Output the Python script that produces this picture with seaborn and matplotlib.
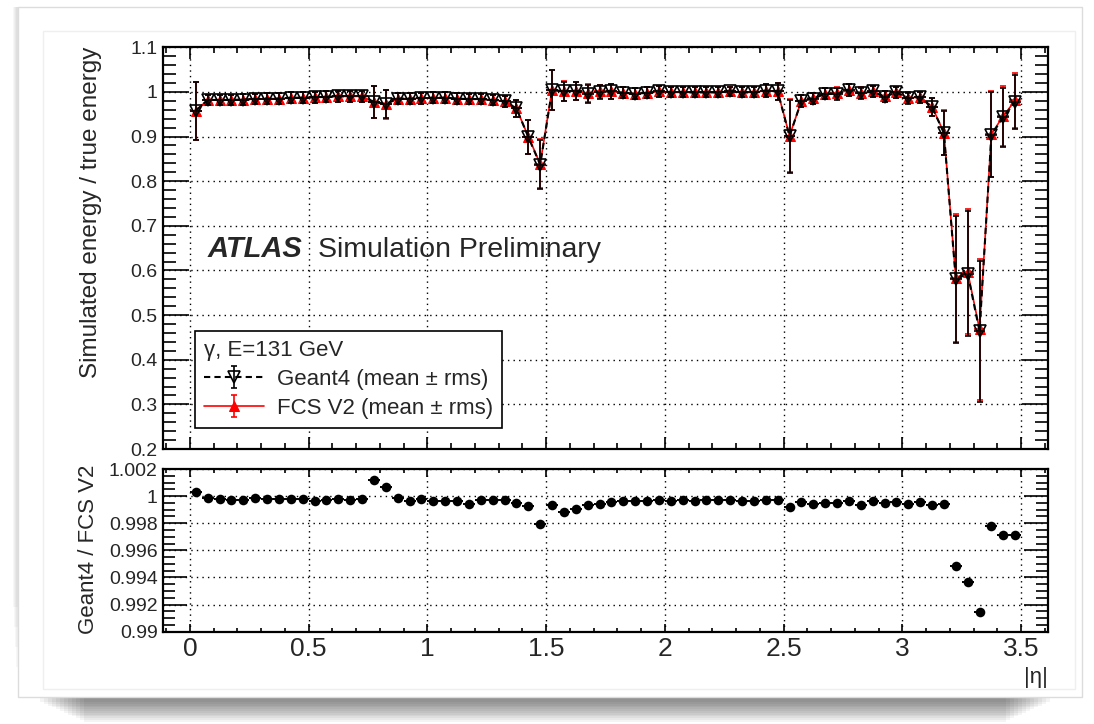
import numpy as np
import pandas as pd
import matplotlib
matplotlib.use("Agg")
import matplotlib.pyplot as plt
from matplotlib.patches import Rectangle
from matplotlib.ticker import MultipleLocator, FuncFormatter
import seaborn as sns

# |eta| bins: 70 bins of width 0.05 from 0 to 3.5
eta = np.round(0.025 + 0.05 * np.arange(70), 3)

g4_mean = [0.958, 0.982, 0.982, 0.982, 0.983, 0.984, 0.985, 0.985, 0.987, 0.987,
           0.988, 0.989, 0.990, 0.990, 0.990, 0.978, 0.973, 0.985, 0.985, 0.986,
           0.987, 0.987, 0.985, 0.984, 0.984, 0.982, 0.979, 0.963, 0.899, 0.837,
           1.004, 1.001, 1.002, 0.996, 1.000, 1.001, 0.998, 0.996, 0.998, 1.001,
           0.999, 0.999, 0.999, 0.999, 0.999, 1.001, 0.999, 0.999, 1.003, 1.001,
           0.901, 0.980, 0.985, 0.996, 0.996, 1.004, 0.997, 1.001, 0.989, 0.999,
           0.986, 0.988, 0.966, 0.908, 0.580, 0.593, 0.464, 0.904, 0.943, 0.978]
g4_rms = [0.065, 0.012, 0.012, 0.012, 0.012, 0.012, 0.012, 0.012, 0.012, 0.012,
          0.012, 0.012, 0.012, 0.012, 0.012, 0.036, 0.032, 0.012, 0.012, 0.012,
          0.012, 0.012, 0.012, 0.012, 0.012, 0.012, 0.013, 0.020, 0.038, 0.055,
          0.045, 0.022, 0.020, 0.020, 0.015, 0.016, 0.012, 0.012, 0.012, 0.012,
          0.011, 0.011, 0.011, 0.011, 0.011, 0.011, 0.011, 0.011, 0.015, 0.020,
          0.082, 0.014, 0.012, 0.012, 0.013, 0.013, 0.012, 0.013, 0.012, 0.012,
          0.012, 0.012, 0.020, 0.050, 0.143, 0.140, 0.158, 0.095, 0.066, 0.060]
fcs_mean = [0.958, 0.982, 0.982, 0.982, 0.983, 0.984, 0.985, 0.985, 0.987, 0.987,
            0.988, 0.989, 0.990, 0.990, 0.990, 0.977, 0.972, 0.985, 0.985, 0.986,
            0.987, 0.987, 0.985, 0.984, 0.984, 0.982, 0.979, 0.963, 0.900, 0.839,
            1.005, 1.002, 1.003, 0.997, 1.001, 1.001, 0.998, 0.996, 0.998, 1.001,
            0.999, 0.999, 0.999, 0.999, 0.999, 1.001, 0.999, 0.999, 1.003, 1.001,
            0.902, 0.980, 0.986, 0.996, 0.997, 1.004, 0.998, 1.001, 0.990, 0.999,
            0.987, 0.988, 0.967, 0.909, 0.583, 0.597, 0.468, 0.906, 0.946, 0.981]
fcs_rms = [0.065, 0.012, 0.012, 0.012, 0.012, 0.012, 0.012, 0.012, 0.012, 0.012,
           0.012, 0.012, 0.012, 0.012, 0.012, 0.036, 0.032, 0.012, 0.012, 0.012,
           0.012, 0.012, 0.012, 0.012, 0.012, 0.012, 0.013, 0.020, 0.038, 0.055,
           0.045, 0.022, 0.020, 0.020, 0.015, 0.016, 0.012, 0.012, 0.012, 0.012,
           0.011, 0.011, 0.011, 0.011, 0.011, 0.011, 0.011, 0.011, 0.015, 0.020,
           0.082, 0.014, 0.012, 0.012, 0.013, 0.013, 0.012, 0.013, 0.012, 0.012,
           0.012, 0.012, 0.020, 0.050, 0.143, 0.140, 0.158, 0.097, 0.068, 0.062]
ratio = [1.00027, 0.99983, 0.99978, 0.99968, 0.99971, 0.99983, 0.99976, 0.99976, 0.99978, 0.99980,
         0.99963, 0.99973, 0.99976, 0.99973, 0.99978, 1.00118, 1.00069, 0.99983, 0.99966, 0.99980,
         0.99963, 0.99966, 0.99963, 0.99941, 0.99968, 0.99968, 0.99968, 0.99951, 0.99929, 0.99794,
         0.99934, 0.99885, 0.99902, 0.99934, 0.99939, 0.99954, 0.99966, 0.99966, 0.99966, 0.99971,
         0.99966, 0.99968, 0.99966, 0.99968, 0.99971, 0.99968, 0.99966, 0.99963, 0.99968, 0.99971,
         0.99920, 0.99954, 0.99941, 0.99951, 0.99946, 0.99963, 0.99932, 0.99966, 0.99949, 0.99954,
         0.99944, 0.99959, 0.99934, 0.99941, 0.99488, 0.99368, 0.99144, 0.99776, 0.99712, 0.99712]

half_bin = 0.025

df = pd.DataFrame({"eta": eta, "g4": g4_mean, "fcs": fcs_mean, "ratio": ratio})

sns.set_style("ticks")
plt.rcParams["font.family"] = ["Liberation Sans", "DejaVu Sans"]

W, H = 1094, 724
fig = plt.figure(figsize=(W / 100, H / 100), dpi=100)


def fx(px):
    return px / W


def fy(py):
    return 1 - py / H


# screenshot card with a soft shadow
bg = fig.add_axes([0, 0, 1, 1], zorder=-10)
bg.set_xlim(0, W)
bg.set_ylim(H, 0)
bg.axis("off")
for k in range(12):
    bg.add_patch(Rectangle((40 + k * 4, 30), 1010 - k * 8, 672 + k * 1.8,
                           facecolor="black", alpha=0.045, lw=0))
for k in range(4):
    bg.add_patch(Rectangle((16 - k, 7), 10, 660 - k * 20,
                           facecolor="black", alpha=0.03, lw=0))
bg.add_patch(Rectangle((18, 7), 1064, 690, facecolor="white", edgecolor="#dcdcdc", lw=1))
bg.add_patch(Rectangle((43, 31), 1032, 658, facecolor="none", edgecolor="#efefef", lw=1))

left, right = 163.3, 1047.7
ax = fig.add_axes([fx(left), fy(449), (right - left) / W, (449 - 47.3) / H])
ax2 = fig.add_axes([fx(left), fy(631.7), (right - left) / W, (631.7 - 469) / H])

# top panel: FCS first, Geant4 dashed on top
sns.lineplot(data=df, x="eta", y="fcs", ax=ax, color="red", lw=1.2, marker="^",
             markersize=7.5, markeredgecolor="red", errorbar=None, sort=False, zorder=3)
fcs_err = ax.errorbar(eta, fcs_mean, yerr=fcs_rms, fmt="none", ecolor="red",
                      elinewidth=1.2, capsize=2.5, capthick=1.2, zorder=3)
ax.errorbar(eta, fcs_mean, xerr=half_bin, fmt="none", ecolor="red", elinewidth=1.2, zorder=3)

sns.lineplot(data=df, x="eta", y="g4", ax=ax, color="black", lw=1.5, linestyle=(0, (3, 2)),
             marker="v", markersize=8, markerfacecolor="none", markeredgecolor="black",
             markeredgewidth=1.2, errorbar=None, sort=False, zorder=4)
g4_err = ax.errorbar(eta, g4_mean, yerr=g4_rms, fmt="none", ecolor="black",
                     elinewidth=1.2, capsize=2.5, capthick=1.2, zorder=4)
ax.errorbar(eta, g4_mean, xerr=half_bin, fmt="none", ecolor="black", elinewidth=1.2, zorder=4)

lines = [l for l in ax.get_lines() if l.get_marker() in ("v", "^")]
fcs_line = [l for l in lines if l.get_marker() == "^"][0]
g4_line = [l for l in lines if l.get_marker() == "v"][0]

# ratio panel
sns.scatterplot(data=df, x="eta", y="ratio", ax=ax2, color="black", s=48,
                edgecolor="black", linewidth=0, zorder=4)
ax2.errorbar(eta, ratio, xerr=half_bin, fmt="none", ecolor="black", elinewidth=1.4, zorder=4)

fmt = FuncFormatter(lambda v, p: "%g" % round(v, 6))
for a in (ax, ax2):
    a.set_xlim(-0.112, 3.612)
    a.set_xlabel("")
    a.set_ylabel("")
    a.set_axisbelow(True)
    a.grid(True, which="major", color="black", linestyle=(0, (1, 3)), lw=1.0)
    a.xaxis.set_major_locator(MultipleLocator(0.5))
    a.xaxis.set_minor_locator(MultipleLocator(0.1))
    a.yaxis.set_major_formatter(fmt)
    a.xaxis.set_major_formatter(fmt)
    a.tick_params(which="both", direction="in", top=True, right=True, width=1.2, color="black")
    for s in a.spines.values():
        s.set_linewidth(1.6)
        s.set_color("black")

ax.set_ylim(0.2, 1.1)
ax.yaxis.set_major_locator(MultipleLocator(0.1))
ax.yaxis.set_minor_locator(MultipleLocator(0.02))
ax.tick_params(axis="y", which="major", length=19, labelsize=14, pad=4)
ax.tick_params(axis="y", which="minor", length=9.5)
ax.tick_params(axis="x", which="major", length=8.5, labelbottom=False)
ax.tick_params(axis="x", which="minor", length=4.3)

ax2.set_ylim(0.99, 1.002)
ax2.yaxis.set_major_locator(MultipleLocator(0.002))
ax2.yaxis.set_minor_locator(MultipleLocator(0.0005))
ax2.tick_params(axis="y", which="major", length=17, labelsize=14, pad=4)
ax2.tick_params(axis="y", which="minor", length=8.5)
ax2.tick_params(axis="x", which="major", length=6, labelsize=19, pad=4)
ax2.tick_params(axis="x", which="minor", length=3)

# labels
fig.text(fx(91), fy(47), "Simulated energy / true energy", rotation=90,
         ha="center", va="top", fontsize=17.5)
fig.text(fx(88.5), fy(465), "Geant4 / FCS V2", rotation=90,
         ha="center", va="top", fontsize=16)
fig.text(fx(1047.7), fy(683), "|η|", ha="right", va="baseline", fontsize=16)

ax.text(0.0505, 0.4787, "ATLAS", transform=ax.transAxes, fontsize=21,
        fontweight="bold", fontstyle="italic", va="baseline")
ax.text(0.175, 0.4787, "Simulation Preliminary", transform=ax.transAxes,
        fontsize=20.5, va="baseline")

leg = ax.legend([(g4_err, g4_line), (fcs_err, fcs_line)],
                ["Geant4 (mean ± rms)", "FCS V2 (mean ± rms)"],
                title="γ, E=131 GeV", alignment="left", fontsize=16, title_fontsize=16,
                loc="lower left", bbox_to_anchor=(0.0358, 0.053), borderaxespad=0,
                frameon=True, fancybox=False, edgecolor="black", framealpha=1,
                handlelength=2.7, handletextpad=0.6, labelspacing=0.35, borderpad=0.4)
leg.get_frame().set_linewidth(1.2)

fig.savefig("out.png", dpi=100)
